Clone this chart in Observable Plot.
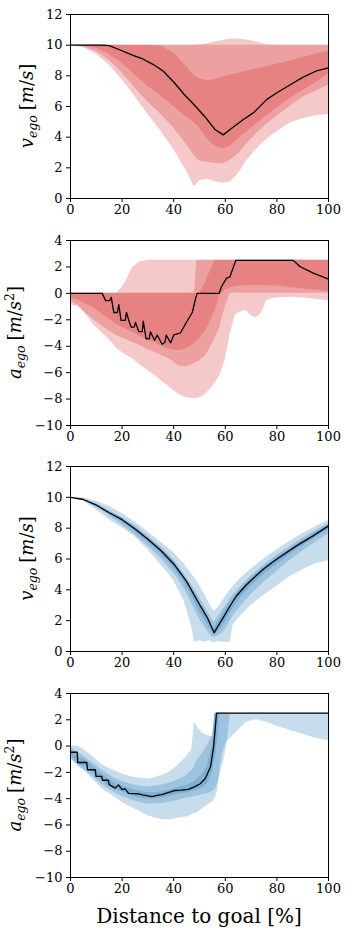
<!DOCTYPE html>
<html><head><meta charset="utf-8">
<script src="https://cdn.jsdelivr.net/npm/d3@7"></script>
<script src="https://cdn.jsdelivr.net/npm/@observablehq/plot@0.6"></script>
<style>body{margin:0;background:white;} #chart{width:355px;} #chart svg{display:block;}</style>
</head><body><div id="chart"></div>
<script>
// ---------- tick labels ----------
const X_TICKS = [0, 20, 40, 60, 80, 100];
const V_TICKS = [0, 2, 4, 6, 8, 10, 12];
const A_TICKS = [-10, -8, -6, -4, -2, 0, 2, 4];

// ---------- panel 1: velocity (red) ----------
const X1 = [0,5,10,15,20,25,30,35,40,45,48,50,53,56,59,62,65,68,72,76,80,85,90,95,100];
const V1_OUT_HI = [10,10,10,10,10,10,10,10,10,10,10,10.02,10.1,10.2,10.3,10.38,10.4,10.35,10.2,10.02,10,10,10,10,10];
const V1_MID_HI = [10,10,10,10,10,10,10,10,10,10,10,10,10,10,10,10,10,10,10,10,10,10,10,10,10];
const V1_IN_HI  = [10,10,10,10,10,10,10,9.95,9.5,8.6,8.0,7.8,7.7,7.75,7.9,8.05,8.15,8.3,8.45,8.6,8.75,8.95,9.2,9.4,9.6];
const V1_IN_LO  = [10,9.97,9.8,9.4,8.8,8.05,7.3,6.7,6.0,5.3,4.95,4.6,3.9,3.4,3.25,3.4,3.9,4.3,4.85,5.4,5.9,6.5,7.05,7.55,8.1];
const V1_MID_LO = [10,9.9,9.6,9.0,8.2,7.2,6.3,5.5,4.6,3.5,2.8,2.45,2.35,2.3,2.25,2.5,2.9,3.5,4.2,4.85,5.35,6.0,6.6,7.0,7.4];
const V1_OUT_LO = [10,9.85,9.4,8.7,7.75,6.65,5.5,4.4,3.2,1.8,0.75,1.15,1.25,1.1,1.0,1.1,1.6,2.4,3.2,3.85,4.35,4.9,5.2,5.4,5.48];
const L1X = [0,10,12,15,19,24,28,32,36,40,44,48,52,56,59.2,63,67,71,76,80,85,90,95,100];
const L1Y = [10,10,10,9.97,9.7,9.35,9.1,8.75,8.3,7.6,6.8,6.1,5.35,4.5,4.15,4.65,5.15,5.6,6.45,6.9,7.4,7.9,8.3,8.52];

// ---------- panel 2: acceleration (red) ----------
const X2 = [0,3,6,9,12,15,18,21,24,27,30,33,36,39,42,45,48,49,50,52,54,56,58,60,62,64,66,68,70,72,74,76,78,80,85,90,95,100];
const A1_OUT_HI = [0,0,0,0,0,0,0,0.7,1.95,2.4,2.5,2.5,2.5,2.5,2.5,2.5,2.5,2.5,2.5,2.5,2.5,2.5,2.5,2.5,2.5,2.5,2.5,2.5,2.5,2.5,2.5,2.5,2.5,2.5,2.5,2.5,2.5,2.5];
const A1_MID_HI = [0,0,0,0,0,0,0,0,0,0,0,0,0,0,0,0,0,2.5,2.5,2.5,2.5,2.5,2.5,2.5,2.5,2.5,2.5,2.5,2.5,2.5,2.5,2.5,2.5,2.5,2.5,2.5,2.5,2.5];
const A1_IN_HI  = [0,0,0,0,0,0,0,0,0,0,0,0,0,0,0,0,0,0,0,0.7,1.6,2.5,2.5,2.5,2.5,2.5,2.5,2.5,2.5,2.5,2.5,2.5,2.5,2.5,2.5,2.5,2.5,2.5];
const A1_IN_LO  = [-0.35,-0.5,-0.8,-1.1,-1.5,-1.95,-2.35,-2.65,-2.95,-3.25,-3.5,-3.75,-4.05,-4.25,-4.35,-4.2,-3.8,-3.6,-3.4,-2.9,-2.2,-1.3,-0.1,0.25,0.4,0.5,0.55,0.6,0.6,0.6,0.6,0.58,0.57,0.55,0.45,0.35,0.25,0.15];
const A1_MID_LO = [-0.6,-0.9,-1.5,-2.0,-2.45,-2.85,-3.2,-3.45,-3.7,-3.95,-4.25,-4.5,-4.75,-5.05,-5.5,-5.55,-5.3,-5.2,-5.1,-4.8,-4.2,-3.4,-2.5,-1.0,0,0.02,0,0,0,0,0,0,0,0,0,0,0,0];
const A1_OUT_LO = [-0.9,-1.0,-1.6,-2.4,-2.95,-3.5,-4.2,-4.6,-4.95,-5.4,-5.85,-6.25,-6.75,-7.2,-7.65,-7.9,-7.95,-7.95,-7.9,-7.7,-7.3,-6.8,-6.2,-5.0,-3.0,-1.6,-1.4,-1.3,-1.7,-1.85,-1.5,-0.55,-0.4,-0.35,-0.3,-0.35,-0.45,-0.55];
const L2X = [0,12.3,13.6,15.2,15.8,16.8,18.2,18.7,19.6,21.2,21.7,22.6,23.5,24.7,25.2,26.5,27.8,28.2,29.3,30.5,31,32.6,33.6,35.5,36.6,37.1,38.8,40,42.6,44.6,47.2,48.4,49.1,57.6,58.5,60.5,61.8,64.1,86.3,88.9,94.1,100];
const L2Y = [0,0,-0.55,-0.55,-0.3,-1.45,-1.45,-0.85,-2.05,-2.05,-1.45,-2.05,-2.55,-2.55,-2.2,-2.9,-2.9,-2.1,-3.45,-3.45,-2.9,-3.55,-3.15,-3.85,-3.7,-3.15,-3.75,-3.15,-3.0,-2.3,-1.45,-0.45,0,0,0.5,1.15,1.25,2.5,2.5,2.03,1.53,1.07];

// ---------- panel 3: velocity (blue) ----------
const X3 = [0,5,10,15,20,25,30,35,40,44,47,48,50,52,54,55.6,57,59,61,62,63,66,70,75,80,85,90,95,100];
const V2_OUT_HI = [10,9.95,9.75,9.4,8.95,8.4,7.75,7.1,6.4,5.7,5.0,4.8,4.3,3.7,3.05,2.6,2.8,3.3,3.8,4.0,4.2,4.75,5.35,6.0,6.6,7.15,7.65,8.1,8.5];
const V2_MID_HI = [10,9.9,9.6,9.15,8.7,8.15,7.5,6.8,5.95,5.05,4.3,4.05,3.5,2.95,2.35,1.9,2.2,2.7,3.2,3.45,3.65,4.2,4.9,5.6,6.25,6.8,7.35,7.85,8.3];
const V2_IN_HI  = [10,9.88,9.55,9.05,8.65,8.08,7.4,6.7,5.85,4.9,4.1,3.8,3.25,2.7,2.05,1.5,1.9,2.4,2.95,3.2,3.4,4.05,4.75,5.45,6.1,6.65,7.2,7.7,8.2];
const V2_IN_LO  = [10,9.82,9.42,8.9,8.4,7.8,7.1,6.35,5.45,4.5,3.6,3.25,2.6,2.05,1.5,1.05,1.25,1.6,2.2,2.5,2.8,3.5,4.25,5.0,5.65,6.3,6.85,7.4,7.9];
const V2_MID_LO = [10,9.8,9.35,8.8,8.2,7.55,6.85,6.05,5.1,4.1,3.1,2.75,2.1,1.6,1.1,0.9,1.0,1.2,1.7,2.0,2.3,2.95,3.7,4.5,5.2,5.9,6.5,7.1,7.6];
const V2_OUT_LO = [10,9.75,9.2,8.55,8.05,7.45,6.6,5.65,4.6,3.3,1.6,0.6,0.7,0.6,0.7,0.55,0.65,0.6,0.6,0.6,1.7,2.3,3.0,3.65,4.25,4.85,5.3,5.7,5.88];
const L3X = [0,5,10,15,20,25,30,35,40,45,50,53,55.7,57,59.2,62,64.3,68,74.7,80,87.6,94,100];
const L3Y = [10,9.86,9.5,9.0,8.55,7.95,7.28,6.55,5.68,4.55,3.05,2.2,1.22,1.6,2.2,3.0,3.6,4.3,5.34,6.0,6.85,7.5,8.15];

// ---------- panel 4: acceleration (blue) ----------
const X4 = [0,3,6,9,12,15,18,21,24,27,30,33,36,39,42,45,47,48,49,51,53,55,56,57,58,59,60,61,62,64,68,72,76,80,85,90,95,100];
const A2_OUT_HI = [0,0,-0.4,-0.85,-1.4,-1.7,-1.95,-2.2,-2.35,-2.45,-2.5,-2.4,-2.2,-1.9,-1.4,-0.8,-0.3,1.8,1.5,1.0,0.8,0.7,2.5,2.5,2.5,2.5,2.5,2.5,2.5,2.5,2.5,2.5,2.5,2.5,2.5,2.5,2.5,2.5];
const A2_MID_HI = [-0.1,-0.5,-0.9,-1.35,-1.8,-2.2,-2.55,-2.75,-2.95,-3.05,-3.1,-3.05,-2.95,-2.8,-2.55,-2.25,-1.85,-1.6,-1.1,-0.6,0.0,0.8,2.5,2.5,2.5,2.5,2.5,2.5,2.5,2.5,2.5,2.5,2.5,2.5,2.5,2.5,2.5,2.5];
const A2_IN_HI  = [-0.3,-0.8,-1.1,-1.6,-2.1,-2.55,-2.9,-3.1,-3.3,-3.45,-3.55,-3.55,-3.45,-3.3,-3.15,-3.0,-2.8,-2.7,-2.55,-2.2,-1.5,0.0,2.5,2.5,2.5,2.5,2.5,2.5,2.5,2.5,2.5,2.5,2.5,2.5,2.5,2.5,2.5,2.5];
const A2_IN_LO  = [-0.7,-1.4,-1.55,-2.05,-2.6,-3.05,-3.35,-3.55,-3.8,-3.95,-4.05,-4.0,-3.95,-3.8,-3.65,-3.55,-3.45,-3.4,-3.35,-3.2,-2.9,-2.0,-1.0,0.5,2.5,2.5,2.5,2.5,2.5,2.5,2.5,2.5,2.5,2.5,2.5,2.5,2.5,2.5];
const A2_MID_LO = [-0.85,-1.6,-1.9,-2.4,-2.9,-3.3,-3.65,-3.9,-4.15,-4.3,-4.4,-4.4,-4.35,-4.25,-4.1,-3.95,-3.9,-3.85,-3.8,-3.7,-3.6,-3.45,-3.3,-2.9,-2.2,-1.4,-0.6,0.8,2.5,2.5,2.5,2.5,2.5,2.5,2.5,2.5,2.5,2.5];
const A2_OUT_LO = [-1.0,-1.4,-2.0,-2.6,-3.2,-3.6,-4.0,-4.4,-4.7,-5.0,-5.3,-5.5,-5.6,-5.6,-5.5,-5.4,-5.25,-5.15,-5.1,-4.8,-4.5,-4.25,-4.0,-3.4,-1.6,-0.5,0.1,0.4,0.6,1.0,1.8,2.0,1.82,1.5,1.2,0.9,0.6,0.4];
const L4X = [0,2.6,2.8,6.3,6.6,9.6,9.9,12.1,12.4,14.7,15,17.3,18.6,19.9,21.2,22.5,26.4,28,31.5,33.6,35.4,37.5,40.6,43,45.7,48,50.3,52.3,54.3,55.5,56.6,100];
const L4Y = [-0.47,-0.47,-1.25,-1.25,-1.8,-1.8,-2.3,-2.3,-2.6,-2.6,-2.93,-3.2,-2.95,-3.3,-3.25,-3.6,-3.64,-3.72,-3.84,-3.75,-3.69,-3.57,-3.38,-3.35,-3.3,-3.1,-2.87,-2.45,-1.55,0,2.5,2.5];

const RED = "#d62728", BLUE = "#1f77b4";
const fmt = d => d < 0 ? "\u2212" + Math.abs(d) : String(d);
const rows = (xs, lo, hi) => xs.map((x, i) => ({x, lo: lo[i], hi: hi[i]}));

function addYLabel(svg, cfg) {
  const cy = (cfg.mt + cfg.height - cfg.mb) / 2;
  const t = d3.select(svg).append("text")
    .attr("transform", `translate(${cfg.labelX},${cy}) rotate(-90)`)
    .attr("text-anchor", "middle")
    .attr("font-family", "'DejaVu Serif', serif")
    .attr("font-size", 18)
    .attr("fill", "black");
  t.append("tspan").attr("font-style", "italic").text(cfg.sym);
  t.append("tspan").attr("font-style", "italic").attr("font-size", 12.5).attr("dy", 4).text("ego");
  t.append("tspan").attr("dy", -4).attr("dx", 5).text("[");
  t.append("tspan").attr("font-style", "italic").text("m");
  t.append("tspan").text("/");
  t.append("tspan").attr("font-style", "italic").text("s");
  if (cfg.sq) {
    t.append("tspan").attr("font-size", 12.5).attr("dy", -7).text("2");
    t.append("tspan").attr("dy", 7).text("]");
  } else {
    t.append("tspan").text("]");
  }
}

function panel(cfg) {
  const marks = cfg.bands.map(([lo, hi]) =>
    Plot.areaY(rows(cfg.xs, lo, hi), {x: "x", y1: "lo", y2: "hi", fill: cfg.color, fillOpacity: 0.25}));
  marks.push(Plot.line(cfg.lx.map((x, i) => ({x, y: cfg.ly[i]})), {x: "x", y: "y", stroke: "black", strokeWidth: 1.3}));
  marks.push(Plot.frame({stroke: "black", strokeWidth: 1}));
  const svg = Plot.plot({
    width: 355, height: cfg.height,
    marginLeft: 70, marginRight: 27, marginTop: cfg.mt, marginBottom: cfg.mb,
    style: {fontFamily: "'DejaVu Serif', serif", fontSize: "13px", color: "black", background: "white", overflow: "visible"},
    x: {domain: [0, 100], ticks: X_TICKS, tickFormat: fmt, tickSize: 4, tickPadding: 2, label: null},
    y: {domain: cfg.yDomain, ticks: cfg.yTicks, tickFormat: fmt, tickSize: 4, tickPadding: 4, label: null},
    marks
  });
  addYLabel(svg, cfg);
  return svg;
}

const chart = document.getElementById("chart");
const p1 = panel({height: 226, mt: 14, mb: 28, yDomain: [0, 12], yTicks: V_TICKS, color: RED, xs: X1,
  bands: [[V1_OUT_LO, V1_OUT_HI], [V1_MID_LO, V1_MID_HI], [V1_IN_LO, V1_IN_HI]], lx: L1X, ly: L1Y, sym: "v", sq: false, labelX: 33});
const p2 = panel({height: 226, mt: 14, mb: 27, yDomain: [-10, 4], yTicks: A_TICKS, color: RED, xs: X2,
  bands: [[A1_OUT_LO, A1_OUT_HI], [A1_MID_LO, A1_MID_HI], [A1_IN_LO, A1_IN_HI]], lx: L2X, ly: L2Y, sym: "a", sq: true, labelX: 21});
const p3 = panel({height: 226, mt: 14, mb: 27, yDomain: [0, 12], yTicks: V_TICKS, color: BLUE, xs: X3,
  bands: [[V2_OUT_LO, V2_OUT_HI], [V2_MID_LO, V2_MID_HI], [V2_IN_LO, V2_IN_HI]], lx: L3X, ly: L3Y, sym: "v", sq: false, labelX: 33});
const p4 = panel({height: 264, mt: 15, mb: 65, yDomain: [-10, 4], yTicks: A_TICKS, color: BLUE, xs: X4,
  bands: [[A2_OUT_LO, A2_OUT_HI], [A2_MID_LO, A2_MID_HI], [A2_IN_LO, A2_IN_HI]], lx: L4X, ly: L4Y, sym: "a", sq: true, labelX: 21});
d3.select(p4).append("text")
  .attr("x", 199).attr("y", 245)
  .attr("text-anchor", "middle")
  .attr("font-family", "'DejaVu Serif', serif")
  .attr("font-size", 20)
  .attr("fill", "black")
  .text("Distance to goal [%]");
[p1, p2, p3, p4].forEach(s => chart.appendChild(s));
</script>
</body></html>
